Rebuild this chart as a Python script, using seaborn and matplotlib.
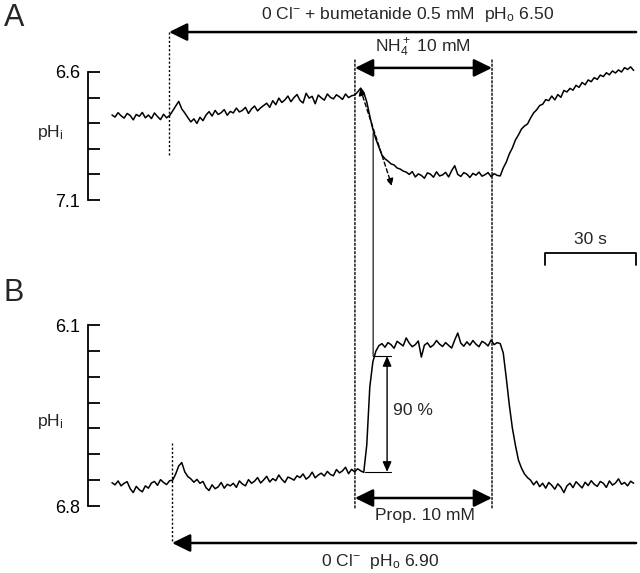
import numpy as np
import pandas as pd
import matplotlib
matplotlib.use("Agg")
import matplotlib.pyplot as plt
from matplotlib.patches import ConnectionPatch
import seaborn as sns


# 1. Data (1 sample per second)
time_s = np.arange(0, 173)

# A: pHi in 0 Cl- + bumetanide, NH4+ pulse
ph_a = [
    6.768, 6.776, 6.759, 6.771, 6.780, 6.762, 6.770, 6.787, 6.766, 6.773,
    6.758, 6.779, 6.768, 6.782, 6.760, 6.774, 6.786, 6.765, 6.779, 6.770,
    6.752, 6.733, 6.715, 6.744, 6.760, 6.778, 6.795, 6.783, 6.801, 6.777,
    6.790, 6.768, 6.755, 6.772, 6.750, 6.766, 6.759, 6.747, 6.769, 6.754,
    6.760, 6.741, 6.756, 6.750, 6.738, 6.762, 6.744, 6.733, 6.752, 6.740,
    6.731, 6.722, 6.738, 6.712, 6.728, 6.702, 6.719, 6.709, 6.694, 6.716,
    6.700, 6.688, 6.711, 6.721, 6.683, 6.702, 6.695, 6.724, 6.690, 6.701,
    6.710, 6.686, 6.699, 6.705, 6.689, 6.697, 6.707, 6.686, 6.700, 6.693,
    6.690, 6.678, 6.663, 6.680, 6.717, 6.772, 6.823, 6.862, 6.893, 6.924,
    6.939, 6.948, 6.959, 6.963, 6.975, 6.979, 6.987, 6.991, 7.000, 6.989,
    7.010, 6.998, 7.004, 7.015, 6.994, 6.999, 7.011, 6.990, 7.006, 7.002,
    6.992, 7.010, 6.985, 6.966, 7.000, 7.008, 6.993, 6.999, 7.012, 6.996,
    7.003, 6.991, 7.007, 7.001, 6.993, 7.009, 6.997, 7.004, 7.006, 6.975,
    6.952, 6.920, 6.897, 6.866, 6.846, 6.823, 6.811, 6.803, 6.780, 6.760,
    6.748, 6.731, 6.726, 6.708, 6.712, 6.694, 6.709, 6.688, 6.699, 6.672,
    6.678, 6.664, 6.671, 6.652, 6.660, 6.641, 6.650, 6.631, 6.638, 6.622,
    6.629, 6.612, 6.618, 6.603, 6.611, 6.596, 6.604, 6.592, 6.600, 6.583,
    6.590, 6.580, 6.594,
]

# B: pHi in 0 Cl-, propionate pulse
ph_b = [
    6.710, 6.718, 6.703, 6.722, 6.712, 6.706, 6.733, 6.748, 6.724, 6.737,
    6.745, 6.722, 6.731, 6.711, 6.705, 6.720, 6.698, 6.709, 6.717, 6.702,
    6.700, 6.676, 6.645, 6.632, 6.668, 6.686, 6.695, 6.708, 6.697, 6.712,
    6.705, 6.729, 6.740, 6.718, 6.733, 6.726, 6.709, 6.731, 6.716, 6.722,
    6.712, 6.728, 6.703, 6.715, 6.722, 6.698, 6.712, 6.704, 6.690, 6.711,
    6.699, 6.685, 6.707, 6.694, 6.702, 6.680, 6.697, 6.709, 6.688, 6.693,
    6.700, 6.683, 6.690, 6.676, 6.696, 6.687, 6.669, 6.691, 6.680, 6.673,
    6.684, 6.666, 6.678, 6.683, 6.659, 6.672, 6.664, 6.650, 6.675, 6.658,
    6.668, 6.656, 6.664, 6.670, 6.564, 6.340, 6.243, 6.201, 6.180, 6.172,
    6.186, 6.168, 6.176, 6.190, 6.163, 6.172, 6.181, 6.150, 6.170, 6.184,
    6.176, 6.162, 6.224, 6.178, 6.169, 6.186, 6.177, 6.160, 6.174, 6.183,
    6.168, 6.179, 6.189, 6.158, 6.131, 6.170, 6.182, 6.165, 6.178, 6.160,
    6.174, 6.184, 6.163, 6.170, 6.181, 6.158, 6.176, 6.168, 6.172, 6.208,
    6.305, 6.409, 6.498, 6.564, 6.622, 6.653, 6.676, 6.690, 6.700, 6.718,
    6.704, 6.725, 6.712, 6.731, 6.709, 6.720, 6.735, 6.714, 6.727, 6.748,
    6.722, 6.712, 6.729, 6.706, 6.718, 6.730, 6.708, 6.721, 6.702, 6.716,
    6.724, 6.705, 6.712, 6.728, 6.703, 6.719, 6.711, 6.695, 6.716, 6.709,
    6.722, 6.704, 6.712,
]

ticks_a = [6.6, 6.7, 6.8, 6.9, 7.0, 7.1]
ticks_b = [6.1, 6.2, 6.3, 6.4, 6.5, 6.6, 6.7, 6.8]

# solution changes (s)
cl_on_a = 18.8
cl_on_b = 19.8
pulse_on = 80.1
pulse_off = 125.3
rec_end = 172.8
t_90 = 86.1
ph_90_lo = 6.668
ph_90_hi = 6.220

df_a = pd.DataFrame({"t": time_s, "ph": ph_a})
df_b = pd.DataFrame({"t": time_s, "ph": ph_b})

# 2. Style
sns.set_style("white")
plt.rcParams["font.family"] = ["Liberation Sans", "DejaVu Sans"]
plt.rcParams["mathtext.fontset"] = "custom"
plt.rcParams["mathtext.rm"] = "Liberation Sans"
plt.rcParams["mathtext.it"] = "Liberation Sans:italic"
plt.rcParams["mathtext.bf"] = "Liberation Sans:bold"

FS = 12.6
fig = plt.figure(figsize=(6.4, 5.73), dpi=100)
ax_a = fig.add_axes([88 / 640, 303 / 573, 552 / 640, 270 / 573])
ax_b = fig.add_axes([88 / 640, 0, 552 / 640, 303 / 573])

# 3. Traces
sns.lineplot(data=df_a, x="t", y="ph", color="black", lw=1.1, ax=ax_a)
sns.lineplot(data=df_b, x="t", y="ph", color="black", lw=1.1, ax=ax_b)

for ax in (ax_a, ax_b):
    ax.patch.set_alpha(0)
    ax.set_xlim(-7.913, 174.09)
    for s in ("top", "right", "bottom"):
        ax.spines[s].set_visible(False)
    ax.spines["left"].set_linewidth(1.3)
    ax.spines["left"].set_color("black")
    ax.tick_params(axis="y", left=True, direction="in", length=8.6,
                   width=1.3, pad=5.5, labelsize=13, colors="black")
    ax.set_xticks([])
    ax.set_xlabel("")
    ax.set_ylabel("")

ax_a.set_ylim(7.3734, 6.3188)
ax_b.set_ylim(7.0590, 5.8873)
ax_a.spines["left"].set_bounds(6.6, 7.1)
ax_b.spines["left"].set_bounds(6.1, 6.8)
ax_a.set_yticks(ticks_a)
ax_a.set_yticklabels(["6.6", "", "", "", "", "7.1"])
ax_b.set_yticks(ticks_b)
ax_b.set_yticklabels(["6.1", "", "", "", "", "", "", "6.8"])

head = "-|>,head_length=0.55,head_width=0.27"
dhead = "<|-|>,head_length=0.55,head_width=0.27"


def arrow(ax, x0, x1, y, style):
    ax.annotate("", xy=(x0, y), xytext=(x1, y), annotation_clip=False,
                arrowprops=dict(arrowstyle=style, lw=1.8, color="black",
                                mutation_scale=20, shrinkA=0, shrinkB=0))


dot = dict(color="black", lw=1.0, linestyle=(0, (1.5, 1.5)))

# panel A annotations
ax_a.plot([cl_on_a, cl_on_a], [6.444, 6.932], clip_on=False, **dot)
arrow(ax_a, cl_on_a, rec_end, 6.444, head)
ax_a.text(97.3, 6.377,
          r"0 Cl$^{-}$ + bumetanide 0.5 mM  pH$_\mathrm{o}$ 6.50",
          ha="center", va="center", fontsize=FS)
arrow(ax_a, pulse_on, pulse_off, 6.584, dhead)
ax_a.text(102.5, 6.506, r"NH$_4^+$ 10 mM", ha="center", va="center",
          fontsize=FS)
ax_a.annotate("", xy=(92.3, 7.045), xytext=(81.8, 6.663),
              arrowprops=dict(arrowstyle="<|-|>,head_length=0.35,head_width=0.18",
                              lw=1.0, color="black", linestyle=(0, (3, 2)),
                              mutation_scale=12, shrinkA=0, shrinkB=0))

# 30 s scale bar
ax_a.plot([rec_end - 30, rec_end - 30, rec_end, rec_end],
          [7.354, 7.307, 7.307, 7.354], color="black", lw=1.3,
          clip_on=False)
ax_a.text(rec_end - 15, 7.256, "30 s", ha="center", va="center",
          fontsize=FS)

# panel B annotations
ax_b.plot([cl_on_b, cl_on_b], [6.556, 6.943], clip_on=False, **dot)
arrow(ax_b, cl_on_b, rec_end, 6.943, head)
ax_b.text(88.4, 7.016, r"0 Cl$^{-}$  pH$_\mathrm{o}$ 6.90",
          ha="center", va="center", fontsize=FS)
arrow(ax_b, pulse_on, pulse_off, 6.769, dhead)
ax_b.text(103.2, 6.835, "Prop. 10 mM", ha="center", va="center",
          fontsize=FS)

# 90 % bracket
ax_b.plot([t_90, 92.0], [ph_90_hi, ph_90_hi], color="black", lw=0.8)
ax_b.plot([83.4, 92.0], [ph_90_lo, ph_90_lo], color="black", lw=0.8)
ax_b.annotate("", xy=(90.7, ph_90_hi), xytext=(90.7, ph_90_lo),
              arrowprops=dict(arrowstyle="<|-|>,head_length=0.5,head_width=0.22",
                              lw=1.0, color="black", mutation_scale=12,
                              shrinkA=0, shrinkB=0))
ax_b.text(92.6, 6.429, "90 %", ha="left", va="center", fontsize=FS)

# lines spanning both panels
for t in (pulse_on, pulse_off):
    con = ConnectionPatch(xyA=(t, 6.553), coordsA=ax_a.transData,
                          xyB=(t, 6.815), coordsB=ax_b.transData, **dot)
    fig.add_artist(con)
con = ConnectionPatch(xyA=(t_90, 6.838), coordsA=ax_a.transData,
                      xyB=(t_90, ph_90_hi), coordsB=ax_b.transData,
                      color="black", lw=0.8)
fig.add_artist(con)

# axis labels and panel letters
ax_a.text(-20.5, 6.835, r"pH$_\mathrm{i}$", ha="center", va="center",
          fontsize=FS)
ax_b.text(-20.5, 6.475, r"pH$_\mathrm{i}$", ha="center", va="center",
          fontsize=FS)
fig.text(4 / 640, 1 - 26 / 573, "A", fontsize=22, ha="left", va="baseline")
fig.text(3 / 640, 1 - 301 / 573, "B", fontsize=22, ha="left", va="baseline")

fig.savefig("out.png", dpi=100)
